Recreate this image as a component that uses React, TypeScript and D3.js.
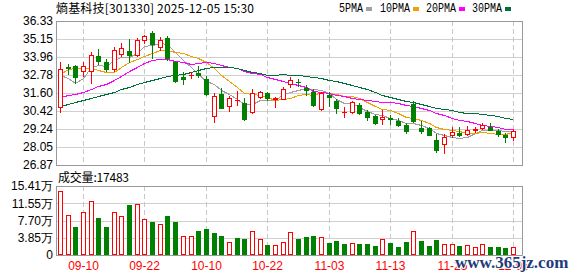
import React from "react";
import * as d3 from "d3";

const dates = [
  "09-05","09-08","09-09","09-10","09-11","09-12","09-15","09-16","09-17","09-18",
  "09-19","09-22","09-23","09-24","09-25","09-26","09-29","09-30","10-09","10-10",
  "10-13","10-14","10-15","10-16","10-17","10-20","10-21","10-22","10-23","10-24",
  "10-27","10-28","10-29","10-30","10-31","11-03","11-04","11-05","11-06","11-07",
  "11-10","11-11","11-12","11-13","11-14","11-17","11-18","11-19","11-20","11-21",
  "11-24","11-25","11-26","11-27","11-28","12-01","12-02","12-03","12-04","12-05",
];
const opens = [
  30.70,33.28,33.35,33.03,33.05,34.03,33.64,33.20,34.18,34.36,
  34.10,35.10,35.54,34.60,35.20,33.62,32.67,32.77,32.93,32.52,
  30.06,31.52,30.75,31.12,30.92,30.32,31.36,31.60,31.23,31.22,
  32.21,32.33,31.91,31.69,30.53,31.47,31.09,30.32,30.37,30.81,
  30.37,30.07,29.87,29.95,29.76,29.50,30.88,29.32,29.28,28.51,
  28.23,28.81,28.99,28.89,29.20,29.27,29.39,29.12,28.87,28.68,
];
const highs = [
  33.62,33.50,33.44,33.64,34.29,34.51,33.83,34.60,34.89,35.18,
  35.21,35.44,35.65,35.25,35.32,33.72,33.00,33.00,33.37,32.74,
  31.62,31.91,31.40,31.76,31.25,31.84,31.75,31.69,31.36,31.97,
  32.62,32.50,32.12,31.84,31.69,31.69,31.19,30.66,31.07,30.92,
  30.48,30.15,30.51,30.15,29.94,29.61,31.07,29.76,29.39,28.91,
  28.91,29.39,29.39,29.41,29.35,29.63,29.61,29.21,29.00,29.17,
];
const lows = [
  30.33,32.88,32.26,32.72,32.26,33.50,33.06,33.06,34.01,33.64,
  34.03,34.89,33.93,34.41,33.75,32.30,32.17,32.57,32.67,31.47,
  29.71,30.59,30.42,30.81,29.83,30.27,31.25,31.14,30.66,31.19,
  31.97,32.06,31.47,30.77,30.48,30.74,30.31,30.04,30.27,30.20,
  29.83,29.56,29.56,29.54,29.43,28.99,29.69,28.97,28.84,27.74,
  27.68,28.73,28.77,28.84,29.06,29.21,29.17,28.76,28.40,28.48,
];
const closes = [
  33.16,33.25,32.68,33.36,34.08,33.72,33.16,34.41,34.54,34.11,
  35.07,35.33,34.82,35.10,33.89,32.39,32.50,32.80,32.75,31.52,
  31.40,30.61,31.25,31.14,29.87,31.63,31.67,31.25,31.25,31.85,
  32.43,32.30,31.80,30.81,31.58,31.36,30.59,30.35,30.99,30.27,
  30.00,29.65,30.00,29.92,29.50,29.10,29.79,29.12,28.86,27.87,
  28.71,29.02,28.84,29.17,29.22,29.53,29.17,28.91,28.68,29.12,
];
// volume in 万手
const volumes = [
  14.2,8.9,6.25,9.5,12.0,8.26,6.25,9.5,8.6,11.2,
  11.4,7.96,7.37,6.92,8.7,7.37,4.17,4.17,5.36,5.8,
  4.9,4.24,2.9,3.8,3.57,5.36,3.57,2.23,2.23,2.9,
  5.13,3.57,4.02,4.24,4.02,2.68,3.13,2.46,2.68,2.46,
  2.46,2.0,3.57,2.68,1.79,2.9,5.36,3.13,2.0,3.35,
  2.46,2.46,2.0,2.23,1.79,2.46,1.79,1.79,1.56,1.75,
];
// closes of the 29 sessions before the window (for moving-average warm-up)
const priorCloses = [
  29.2,29.5,29.8,29.4,29.9,30.1,29.7,29.4,29.6,29.5,
  30.6,30.9,30.7,30.5,30.3,30.0,
  29.2,28.9,28.6,28.7,
  29.95,32.08,32.96,34.08,35.22,34.3,34.33,31.71,30.5,
];
const priceTicks = [36.33,35.15,33.96,32.78,31.60,30.42,29.24,28.05,26.87];
const volumeTicks = [0,3.85,7.70,11.55,15.41];
const volumeTickLabels = ["0","3.85万","7.70万","11.55万","15.41万"];
const dateTicks = ["09-10","09-22","10-10","10-22","11-03","11-13","11-25","12-05"];
const maPeriods = [5,10,20,30];
const maLabels = ["5PMA","10PMA","20PMA","30PMA"];
const maColors = ["#a0a0a0","#f0a000","#ff00ff","#00703c"];
const title = "熵基科技[301330] 2025-12-05 15:30";
const lastVolumeText = "成交量:17483";

const W = 578, H = 276;
const L = 56, R = 522, PT = 21, PB = 165, VT = 186, VB = 255;
const RED = "#ff0000", GREEN = "#008000";

export default function App() {
  const x = d3.scalePoint<string>().domain(dates).range([60, 513]);
  const cx = (d: string) => Math.round(x(d) as number);
  const y = d3.scaleLinear().domain([26.87, 36.33]).range([PB, PT]);
  const yv = d3.scaleLinear().domain([0, 15.41]).range([VB, VT]);
  const all = priorCloses.concat(closes);
  const off = priorCloses.length;

  const maSeries = maPeriods.map((p) =>
    closes.map((_, i) => d3.mean(all.slice(i + off - p + 1, i + off + 1)) as number)
  );
  const line = d3
    .line<number>()
    .x((_, i) => cx(dates[i]) + 0.5)
    .y((v) => Math.round(y(v)) + 0.5);

  const ry = (v: number) => Math.round(y(v));
  const labelFont = "'Liberation Sans', Arial, sans-serif";
  const cjkFont = "'Noto Sans CJK SC', sans-serif";

  return (
    <svg
      width={W}
      height={H}
      style={{ position: "absolute", left: 0, top: 0, background: "#fff" }}
    >
      {/* title */}
      <text x={56} y={13} fontSize={12} fontFamily={cjkFont} fill="#000" textLength={198} lengthAdjust="spacing">
        {title}
      </text>
      {/* legend */}
      {maLabels.map((lab, k) => {
        const tx = [339, 380, 426, 472][k];
        const w = lab.length * 6;
        return (
          <g key={lab}>
            <text x={tx} y={12} fontSize={12} fontFamily="'Liberation Mono', monospace" fill="#000" textLength={w} lengthAdjust="spacingAndGlyphs">
              {lab}
            </text>
            <rect x={tx + w + 3} y={7} width={6} height={4} fill={maColors[k]} />
          </g>
        );
      })}

      {/* grid lines price */}
      {priceTicks.slice(1, -1).map((t) => (
        <line key={t} x1={L} x2={R} y1={ry(t) + 0.5} y2={ry(t) + 0.5} stroke="#d0d0d0" shapeRendering="crispEdges" />
      ))}
      {volumeTicks.slice(1, -1).map((t) => (
        <line key={t} x1={L} x2={R} y1={Math.round(yv(t)) + 0.5} y2={Math.round(yv(t)) + 0.5} stroke="#d0d0d0" shapeRendering="crispEdges" />
      ))}
      {dateTicks.map((d) => (
        <g key={d}>
          <line x1={cx(d) + 0.5} x2={cx(d) + 0.5} y1={PT} y2={PB} stroke="#c8c8c8" strokeDasharray="5,3" shapeRendering="crispEdges" />
          <line x1={cx(d) + 0.5} x2={cx(d) + 0.5} y1={VT} y2={VB} stroke="#c8c8c8" strokeDasharray="5,3" shapeRendering="crispEdges" />
        </g>
      ))}

      {/* frames */}
      <rect x={L + 0.5} y={PT + 0.5} width={R - L} height={PB - PT} fill="none" stroke="#999" shapeRendering="crispEdges" />
      <rect x={L + 0.5} y={VT + 0.5} width={R - L} height={VB - VT} fill="none" stroke="#999" shapeRendering="crispEdges" />

      {/* price labels */}
      {priceTicks.map((t) => (
        <text key={t} x={53} y={y(t)} dy="0.36em" textAnchor="end" fontSize={12} fontFamily={labelFont} fill="#000">
          {t.toFixed(2)}
        </text>
      ))}
      {/* volume labels */}
      {volumeTicks.map((t, k) => (
        <text key={t} x={53} y={yv(t)} dy="0.36em" textAnchor="end" fontSize={12} fontFamily={labelFont} fill="#000">
          {volumeTickLabels[k]}
        </text>
      ))}
      <text x={58} y={182} fontSize={12} fontFamily={cjkFont} fill="#000" textLength={71} lengthAdjust="spacing">
        {lastVolumeText}
      </text>

      {/* MA lines */}
      {maSeries.map((s, k) => (
        <path key={k} d={line(s) || ""} fill="none" stroke={maColors[k]} strokeWidth={1} shapeRendering="crispEdges" />
      ))}

      {/* candles */}
      {dates.map((d, i) => {
        const c = cx(d);
        const o = opens[i], cl = closes[i], h = highs[i], l = lows[i];
        const up = cl >= o;
        const top = ry(Math.max(o, cl));
        const bot = ry(Math.min(o, cl));
        const col = up ? RED : GREEN;
        if (bot - top < 1) {
          return (
            <g key={d} shapeRendering="crispEdges">
              <line x1={c + 0.5} x2={c + 0.5} y1={ry(h)} y2={ry(l) + 1} stroke={col} />
              <line x1={c - 2} x2={c + 3} y1={top + 0.5} y2={top + 0.5} stroke={col} />
            </g>
          );
        }
        if (up) {
          return (
            <g key={d} shapeRendering="crispEdges">
              <line x1={c + 0.5} x2={c + 0.5} y1={ry(h)} y2={top} stroke={col} />
              <line x1={c + 0.5} x2={c + 0.5} y1={bot + 1} y2={ry(l) + 1} stroke={col} />
              <rect x={c - 1.5} y={top + 0.5} width={4} height={bot - top} fill="#fff" stroke={col} />
            </g>
          );
        }
        return (
          <g key={d} shapeRendering="crispEdges">
            <line x1={c + 0.5} x2={c + 0.5} y1={ry(h)} y2={ry(l) + 1} stroke={col} />
            <rect x={c - 2} y={top} width={5} height={bot - top + 1} fill={col} />
          </g>
        );
      })}

      {/* volume bars */}
      {dates.map((d, i) => {
        const c = cx(d);
        const prev = i === 0 ? priorCloses[priorCloses.length - 1] : closes[i - 1];
        const up = closes[i] >= prev;
        const t = Math.round(yv(volumes[i]));
        return up ? (
          <rect key={d} x={c - 1.5} y={t + 0.5} width={4} height={VB - t - 1} fill="#fff" stroke={RED} shapeRendering="crispEdges" />
        ) : (
          <rect key={d} x={c - 2} y={t} width={5} height={VB - t} fill={GREEN} shapeRendering="crispEdges" />
        );
      })}

      {/* date labels */}
      {dateTicks.map((d) => (
        <text key={d} x={cx(d) + 0.5} y={270} textAnchor="middle" fontSize={12} fontFamily={labelFont} fill={RED}>
          {d}
        </text>
      ))}

      {/* site watermark */}
      <text x={455} y={268} fontSize={17} fontWeight="bold" fontFamily="'Liberation Serif', serif" fill="#1f3d7a" stroke="#fff" strokeWidth={2} paintOrder="stroke">
        www.365jz.com
      </text>
    </svg>
  );
}
